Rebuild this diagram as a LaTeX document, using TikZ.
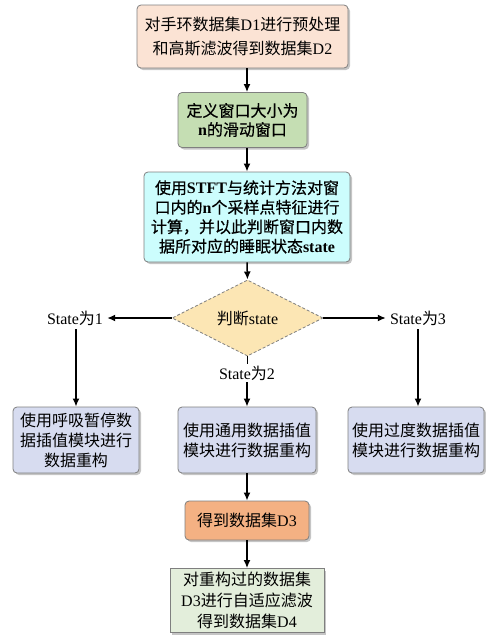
\documentclass[tikz,border=0pt]{standalone}
\usepackage{fontspec}
\setmainfont{Noto Sans CJK SC}
\newfontfamily\heavycjk[FakeBold=0.4]{Noto Sans CJK SC}
\newfontfamily\latinfont{Liberation Serif}
\newcommand\en[1]{{\latinfont #1}}
\newcommand\enb[1]{{\latinfont\bfseries #1}}
\usetikzlibrary{arrows.meta,shapes.geometric,shadows}
\definecolor{prefill}{HTML}{FBE3D4}
\definecolor{winfill}{HTML}{C5DEB3}
\definecolor{featfill}{HTML}{CCFDFD}
\definecolor{judgefill}{HTML}{FCE6B4}
\definecolor{recfill}{HTML}{D7DCF0}
\definecolor{dthreefill}{HTML}{F4B183}
\definecolor{dfourfill}{HTML}{E3EEDB}
\definecolor{boxline}{HTML}{7F7F7F}
\tikzset{
  every node/.style={font=\fontsize{16pt}{20pt}\selectfont, text=black},
  box/.style={rectangle, rounded corners=4pt, draw=boxline, line width=0.8pt,
    align=center, inner sep=0pt,
    drop shadow={shadow xshift=2pt, shadow yshift=-2pt, fill=black!45}},
  decide/.style={diamond, draw=boxline, densely dashed, line width=0.8pt,
    fill=judgefill, inner sep=0pt, align=center},
  lbl/.style={inner sep=4pt},
  flow/.style={-{Latex[length=8pt,width=7pt]}, line width=1.5pt, draw=black},
  link/.style={line width=1.5pt, draw=black},
}

\begin{document}
\begin{tikzpicture}[x=1pt,y=-1pt]
\useasboundingbox (0,0) rectangle (486,635);

% ---- Preparation -----------------------------------------------------------
\node[box, fill=prefill, minimum width=211pt, minimum height=63pt,
  font=\fontsize{16pt}{24pt}\selectfont] (pre) at (242.5,36.5)
  {对手环数据集\en{D1}进行预处理\\和高斯滤波得到数据集\en{D2}};
\node[box, fill=winfill, minimum width=129pt, minimum height=55pt,
  font=\fontsize{16pt}{19pt}\selectfont\heavycjk] (win) at (242.5,120)
  {定义窗口大小为\\\enb{n}的滑动窗口};
\node[box, fill=featfill, minimum width=206pt, minimum height=90pt,
  font=\fontsize{16pt}{19.5pt}\selectfont\heavycjk] (feat) at (247,217)
  {使用\enb{STFT}与统计方法对窗\\口内的\enb{n}个采样点特征进行\\计算，并以此判断窗口内数\\据所对应的睡眠状态\enb{state}};

\draw[flow] (pre.south -| feat) -- (win.north -| feat);
\draw[flow] (win.south -| feat) -- (feat.north);

% ---- Decision --------------------------------------------------------------
\node[decide, minimum width=151pt, minimum height=47pt] (judge) at (247.5,318)
  {判断\en{state}};
\draw[flow] (feat.south) -- (judge.north);

\node[lbl] (sone) at (75,318) {\en{State}为\en{1}};
\node[lbl] (sthree) at (418,318) {\en{State}为\en{3}};
\node[lbl, inner sep=2pt] (stwo) at (247,373) {\en{State}为\en{2}};

\draw[flow] (judge.west) -- (sone.east);
\draw[flow] (judge.east) -- (sthree.west);
\draw[link] (judge.south) -- (stwo.north -| judge.south);

% ---- Reconstruction --------------------------------------------------------
\node[box, fill=recfill, minimum width=126pt, minimum height=66pt] (brk) at (76,440)
  {使用呼吸暂停数\\据插值模块进行\\数据重构};
\node[box, fill=recfill, minimum width=138pt, minimum height=66pt] (gen) at (247,440)
  {使用通用数据插值\\模块进行数据重构};
\node[box, fill=recfill, minimum width=136pt, minimum height=66pt] (trn) at (416,440)
  {使用过度数据插值\\模块进行数据重构};

\draw[flow] (sone.south -| brk) -- (brk.north);
\draw[flow] (stwo.south) -- (gen.north);
\draw[flow] (sthree.south) -- (sthree.south |- trn.north);

% ---- Output ----------------------------------------------------------------
\node[box, fill=dthreefill, minimum width=124pt, minimum height=39pt] (dthree) at (247,520.5)
  {得到数据集\en{D3}};
\node[box, rounded corners=0pt, fill=dfourfill, minimum width=154pt, minimum height=64pt,
  font=\fontsize{16pt}{21pt}\selectfont] (dfour) at (247,600.5)
  {对重构过的数据集\\\en{D3}进行自适应滤波\\得到数据集\en{D4}};

\draw[flow] (gen.south) -- (dthree.north);
\draw[flow] (dthree.south) -- (dfour.north);

\end{tikzpicture}
\end{document}
